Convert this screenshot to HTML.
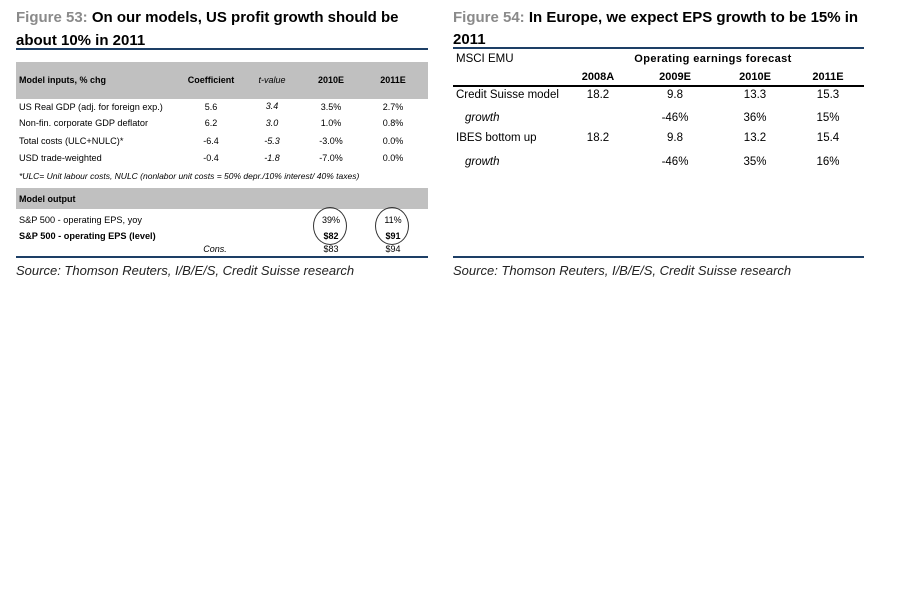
<!DOCTYPE html>
<html><head><style>
body{margin:0;width:918px;height:614px;background:#fff;position:relative;font-family:"Liberation Sans",sans-serif;color:#000;overflow:hidden}
div{position:absolute;white-space:nowrap}
.t{font-size:15px;font-weight:bold}
.g{color:#8a8a8a}
.s{font-size:9px}
.c{transform:translateX(-50%)}
.r{font-size:11.5px}
.i{font-style:italic}
.b{font-weight:bold}
.rule{height:2px;background:#1d3f66}
.src{font-size:13px;font-style:italic;color:#222}
</style></head><body>
<!-- left -->
<div class="t" style="left:16px;top:9px"><span class="g">Figure 53:</span> On our models, US profit growth should be</div>
<div class="t" style="left:16px;top:32px">about 10% in 2011</div>
<div class="rule" style="left:16px;top:48px;width:412px"></div>
<div style="left:16px;top:62px;width:412px;height:37px;background:#c0c0c0"></div>
<div class="s b" style="left:19px;top:75px">Model inputs, % chg</div>
<div class="s b c" style="left:211px;top:75px">Coefficient</div>
<div class="s i c" style="left:272px;top:75px">t-value</div>
<div class="s b c" style="left:331px;top:75px">2010E</div>
<div class="s b c" style="left:393px;top:75px">2011E</div>

<div class="s" style="left:19px;top:102px;font-size:9.2px">US Real GDP (adj. for foreign exp.)</div>
<div class="s c" style="left:211px;top:102px">5.6</div><div class="s i c" style="left:272px;top:101px">3.4</div><div class="s c" style="left:331px;top:102px">3.5%</div><div class="s c" style="left:393px;top:102px">2.7%</div>
<div class="s" style="left:19px;top:118px;font-size:9.2px">Non-fin. corporate GDP deflator</div>
<div class="s c" style="left:211px;top:118px">6.2</div><div class="s i c" style="left:272px;top:118px">3.0</div><div class="s c" style="left:331px;top:118px">1.0%</div><div class="s c" style="left:393px;top:118px">0.8%</div>
<div class="s" style="left:19px;top:136px;font-size:9.2px">Total costs (ULC+NULC)*</div>
<div class="s c" style="left:211px;top:136px">-6.4</div><div class="s i c" style="left:272px;top:136px">-5.3</div><div class="s c" style="left:331px;top:136px">-3.0%</div><div class="s c" style="left:393px;top:136px">0.0%</div>
<div class="s" style="left:19px;top:153px;font-size:9.2px">USD trade-weighted</div>
<div class="s c" style="left:211px;top:153px">-0.4</div><div class="s i c" style="left:272px;top:153px">-1.8</div><div class="s c" style="left:331px;top:153px">-7.0%</div><div class="s c" style="left:393px;top:153px">0.0%</div>
<div class="s i" style="left:19px;top:171px;font-size:8.5px">*ULC= Unit labour costs, NULC (nonlabor unit costs = 50% depr./10% interest/ 40% taxes)</div>
<div style="left:16px;top:188px;width:412px;height:21px;background:#c0c0c0"></div>
<div class="s b" style="left:19px;top:194px">Model output</div>
<div class="s" style="left:19px;top:215px;font-size:9.2px">S&amp;P 500 - operating EPS, yoy</div>
<div class="s b" style="left:19px;top:231px;font-size:9.2px">S&amp;P 500 - operating EPS (level)</div>
<div class="s c" style="left:331px;top:215px">39%</div><div class="s c" style="left:393px;top:215px">11%</div>
<div class="s b c" style="left:331px;top:231px">$82</div><div class="s b c" style="left:393px;top:231px">$91</div>
<div class="s i c" style="left:215px;top:244px">Cons.</div>
<div class="s c" style="left:331px;top:244px">$83</div><div class="s c" style="left:393px;top:244px">$94</div>
<div style="left:313px;top:207px;width:32px;height:36px;border:1px solid #333;border-radius:50%"></div>
<div style="left:375px;top:207px;width:32px;height:36px;border:1px solid #333;border-radius:50%"></div>
<div class="rule" style="left:16px;top:256px;width:412px"></div>
<div class="src" style="left:16px;top:263px">Source: Thomson Reuters, I/B/E/S, Credit Suisse research</div>

<!-- right -->
<div class="t" style="left:453px;top:9px"><span class="g">Figure 54:</span> In Europe, we expect EPS growth to be 15% in</div>
<div class="t" style="left:453px;top:31px">2011</div>
<div class="rule" style="left:453px;top:47px;width:411px"></div>
<div class="r" style="left:456px;top:53px">MSCI EMU</div>
<div class="r b c" style="left:713px;top:53px;letter-spacing:0.4px;font-size:11px">Operating earnings forecast</div>
<div class="r b c" style="left:598px;top:71px;font-size:11px">2008A</div>
<div class="r b c" style="left:675px;top:71px;font-size:11px">2009E</div>
<div class="r b c" style="left:755px;top:71px;font-size:11px">2010E</div>
<div class="r b c" style="left:828px;top:71px;font-size:11px">2011E</div>
<div style="left:453px;top:85px;width:411px;height:2px;background:#000"></div>
<div class="r" style="left:456px;top:89px">Credit Suisse model</div>
<div class="r c" style="left:598px;top:89px">18.2</div><div class="r c" style="left:675px;top:89px">9.8</div><div class="r c" style="left:755px;top:89px">13.3</div><div class="r c" style="left:828px;top:89px">15.3</div>
<div class="r i" style="left:465px;top:112px">growth</div>
<div class="r c" style="left:675px;top:112px">-46%</div><div class="r c" style="left:755px;top:112px">36%</div><div class="r c" style="left:828px;top:112px">15%</div>
<div class="r" style="left:456px;top:132px">IBES bottom up</div>
<div class="r c" style="left:598px;top:132px">18.2</div><div class="r c" style="left:675px;top:132px">9.8</div><div class="r c" style="left:755px;top:132px">13.2</div><div class="r c" style="left:828px;top:132px">15.4</div>
<div class="r i" style="left:465px;top:156px">growth</div>
<div class="r c" style="left:675px;top:156px">-46%</div><div class="r c" style="left:755px;top:156px">35%</div><div class="r c" style="left:828px;top:156px">16%</div>
<div class="rule" style="left:453px;top:256px;width:411px"></div>
<div class="src" style="left:453px;top:263px">Source: Thomson Reuters, I/B/E/S, Credit Suisse research</div>
</body></html>
